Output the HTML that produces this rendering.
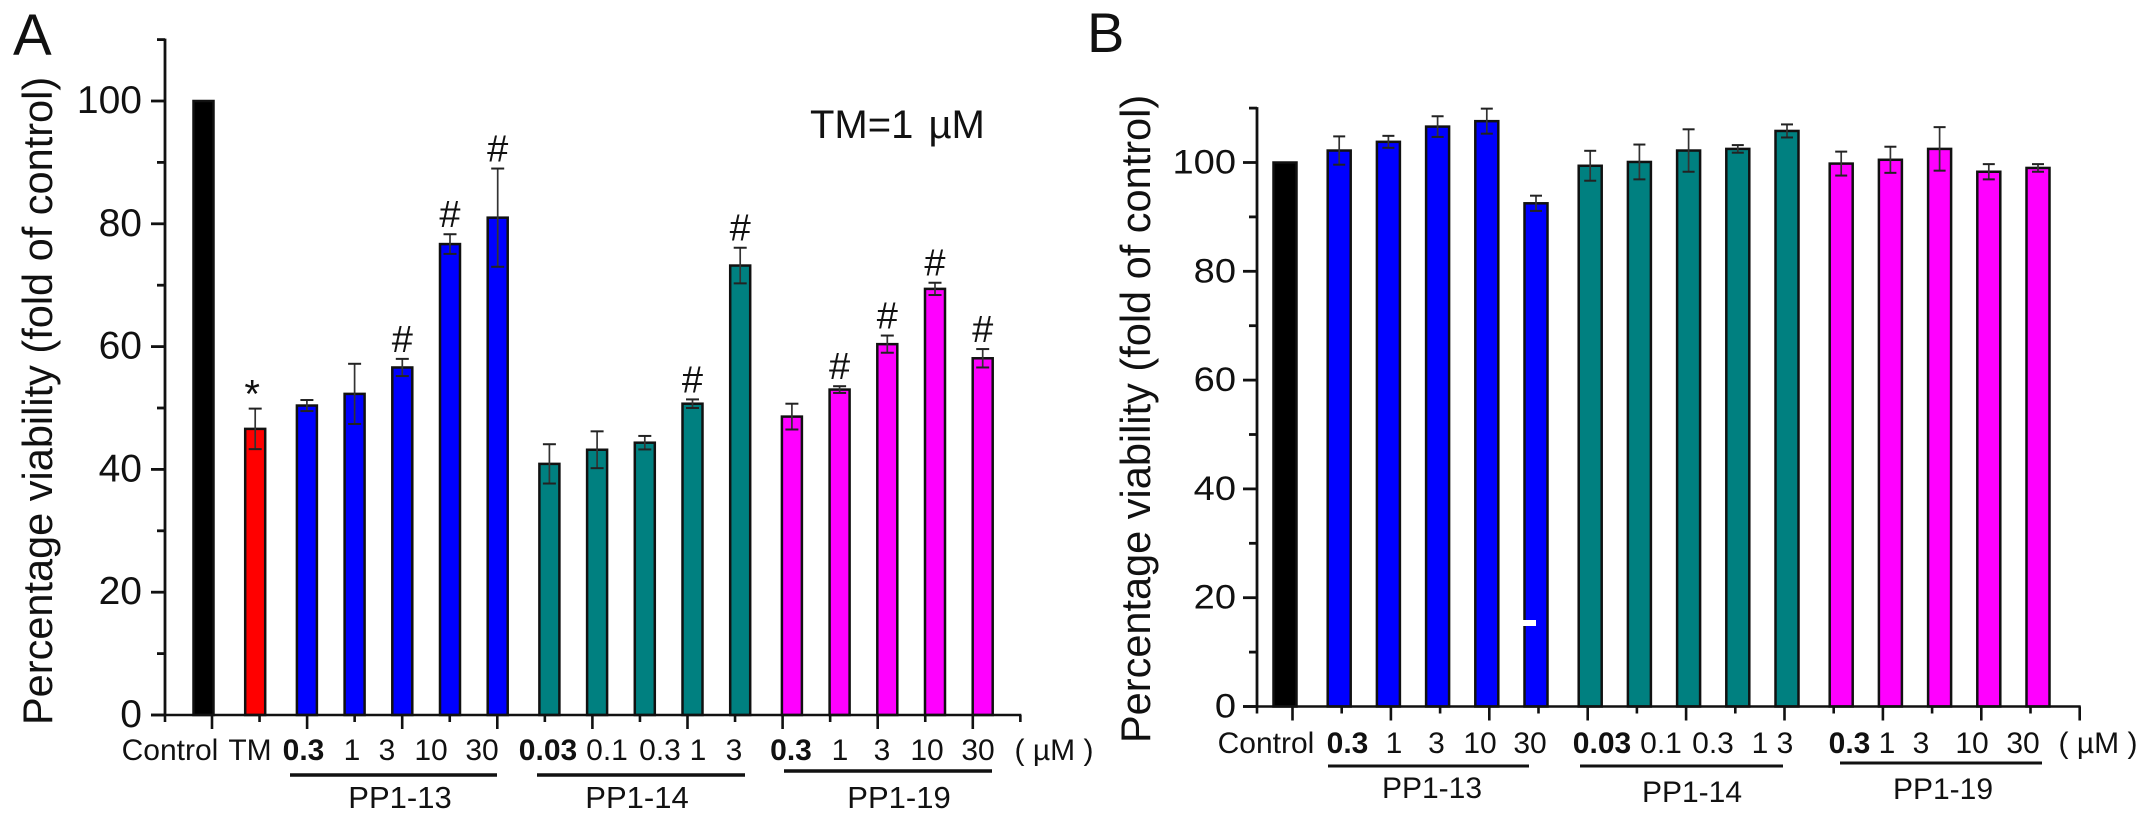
<!DOCTYPE html>
<html lang="en">
<head>
<meta charset="utf-8">
<title>Percentage viability charts</title>
<style>
html,body{margin:0;padding:0;background:#fff;}
svg{display:block;font-family:"Liberation Sans",Arial,sans-serif;fill:#111;}
</style>
</head>
<body>
<svg id="figure" xmlns="http://www.w3.org/2000/svg" width="2150" height="822" viewBox="0 0 2150 822">
  <rect x="0" y="0" width="2150" height="822" fill="#fff"/>
  <g id="panelA"></g>
  <g id="panelB"></g>

  <text x="13" y="55" font-size="58">A</text>
  <text x="1087" y="52" font-size="56">B</text>
  <text x="810" y="138" font-size="40" word-spacing="4">TM=1 µM</text>

  <g font-size="30" text-anchor="middle">
    <text x="170" y="760">Control</text>
    <text x="250" y="760">TM</text>
    <text x="303.5" y="760" font-weight="bold">0.3</text>
    <text x="352" y="760">1</text>
    <text x="387" y="760">3</text>
    <text x="431" y="760">10</text>
    <text x="482" y="760">30</text>
    <text x="548" y="760" font-weight="bold">0.03</text>
    <text x="607" y="760">0.1</text>
    <text x="660" y="760">0.3</text>
    <text x="698" y="760">1</text>
    <text x="734" y="760">3</text>
    <text x="791" y="760" font-weight="bold">0.3</text>
    <text x="840" y="760">1</text>
    <text x="882" y="760">3</text>
    <text x="927" y="760">10</text>
    <text x="978" y="760">30</text>
    <text x="1054" y="760">( µM )</text>
    <text x="400" y="808" font-size="31">PP1-13</text>
    <text x="637" y="808" font-size="31">PP1-14</text>
    <text x="899" y="808" font-size="31">PP1-19</text>
  </g>
  <g stroke="#111" stroke-width="3.5">
    <line x1="290" y1="775" x2="497" y2="775"/>
    <line x1="537" y1="775" x2="745" y2="775"/>
    <line x1="784" y1="771" x2="992" y2="771"/>
  </g>
  <text transform="translate(52 725) rotate(-90)" font-size="41.5">Percentage viability (fold of control)</text>

  <g font-size="30" text-anchor="middle">
    <text x="1266" y="753">Control</text>
    <text x="1347.5" y="753" font-weight="bold">0.3</text>
    <text x="1394" y="753">1</text>
    <text x="1436.5" y="753">3</text>
    <text x="1480" y="753">10</text>
    <text x="1530" y="753">30</text>
    <text x="1602" y="753" font-weight="bold">0.03</text>
    <text x="1661" y="753">0.1</text>
    <text x="1713" y="753">0.3</text>
    <text x="1760" y="753">1</text>
    <text x="1785" y="753">3</text>
    <text x="1849.5" y="753" font-weight="bold">0.3</text>
    <text x="1887" y="753">1</text>
    <text x="1921" y="753">3</text>
    <text x="1972" y="753">10</text>
    <text x="2023" y="753">30</text>
    <text x="2098" y="753">( µM )</text>
    <text x="1432" y="798">PP1-13</text>
    <text x="1692" y="802">PP1-14</text>
    <text x="1943" y="799">PP1-19</text>
  </g>
  <g stroke="#111" stroke-width="3">
    <line x1="1328" y1="766" x2="1529" y2="766"/>
    <line x1="1580" y1="766" x2="1783" y2="766"/>
    <line x1="1840" y1="763" x2="2042" y2="763"/>
  </g>
  <text transform="translate(1150 743) rotate(-90)" font-size="41.5">Percentage viability (fold of control)</text>
</svg>
<script>
// Panel A data
const categoriesA = ['Control','TM','0.3','1','3','10','30','0.03','0.1','0.3','1','3','0.3','1','3','10','30'];
const groupsA = ['Control','TM','PP1-13','PP1-13','PP1-13','PP1-13','PP1-13','PP1-14','PP1-14','PP1-14','PP1-14','PP1-14','PP1-19','PP1-19','PP1-19','PP1-19','PP1-19'];
const valuesA = [100,46.6,50.4,52.3,56.6,76.7,81,40.9,43.2,44.35,50.7,73.2,48.6,53,60.4,69.4,58.1];
const errorsA = [0,3.3,0.9,4.9,1.4,1.6,8,3.2,3,1.1,0.7,2.9,2.1,0.55,1.4,1,1.5];
const marksA = ['','*','','','#','#','#','','','','#','#','','#','#','#','#'];
const yTickLabelsA = [0,20,40,60,80,100];

// Panel B data
const categoriesB = ['Control','0.3','1','3','10','30','0.03','0.1','0.3','1','3','0.3','1','3','10','30'];
const groupsB = ['Control','PP1-13','PP1-13','PP1-13','PP1-13','PP1-13','PP1-14','PP1-14','PP1-14','PP1-14','PP1-14','PP1-19','PP1-19','PP1-19','PP1-19','PP1-19'];
const valuesB = [100,102.2,103.8,106.6,107.6,92.5,99.4,100.1,102.2,102.5,105.8,99.8,100.5,102.5,98.3,99];
const errorsB = [0,2.6,1.1,1.9,2.3,1.4,2.75,3.2,3.9,0.7,1.2,2.2,2.4,4,1.4,0.7];
const marksB = ['','','','','','','','','','','','','','','',''];
const yTickLabelsB = [0,20,40,60,80,100];

const groupColors = {'Control':'#000000','TM':'#ff0000','PP1-13':'#0000ff','PP1-14':'#008080','PP1-19':'#ff00ff'};
const NS = 'http://www.w3.org/2000/svg';

function line(parent, name, x1, y1, x2, y2, width, color) {
  const el = document.createElementNS(NS, 'line');
  
  
  el.setAttribute('x1', x1);
  el.setAttribute('y1', y1);
  el.setAttribute('x2', x2);
  el.setAttribute('y2', y2);
  el.setAttribute('stroke', color || '#111');
  el.setAttribute('stroke-width', width);
  parent.appendChild(el);
  return el;
}

function drawPanel(root, opt) {
  const groupOrder = [];
  opt.groups.forEach(function (g) { if (groupOrder.indexOf(g) < 0) groupOrder.push(g); });
  const y = function (v) { return opt.y0 - v * opt.yScale; };
  const x = function (i) { return opt.x0 + opt.step * i + opt.gap * groupOrder.indexOf(opt.groups[i]); };

  // bars
  opt.values.forEach(function (v, i) {
    const c = x(i);
    const bar = document.createElementNS(NS, 'rect');
    
    
    bar.setAttribute('x', c - opt.barWidth / 2);
    bar.setAttribute('y', y(v));
    bar.setAttribute('width', opt.barWidth);
    bar.setAttribute('height', opt.y0 - y(v));
    bar.setAttribute('fill', groupColors[opt.groups[i]]);
    bar.setAttribute('stroke', '#111');
    bar.setAttribute('stroke-width', '2.5');
    root.appendChild(bar);
  });

  // error bars
  opt.values.forEach(function (v, i) {
    const e = opt.errors[i];
    if (!e) return;
    const c = x(i);
    const top = y(v + e);
    const bottom = y(v - e);
    line(root, 'error-stem-' + i, c, top, c, bottom, 1.7, '#333');
    line(root, 'error-cap-top-' + i, c - opt.cap, top, c + opt.cap, top, 2, '#222');
    line(root, 'error-cap-bottom-' + i, c - opt.cap, bottom, c + opt.cap, bottom, 2, '#222');
  });

  // significance marks
  opt.marks.forEach(function (m, i) {
    if (!m) return;
    const t = document.createElementNS(NS, 'text');
    
    
    const top = y(opt.values[i] + opt.errors[i]);
    t.setAttribute('x', x(i) - (m === '#' ? 0 : 3));
    t.setAttribute('y', m === '#' ? top - 7 : top - 1);
    t.setAttribute('text-anchor', 'middle');
    t.setAttribute('font-size', m === '#' ? 38 : 40);
    t.setAttribute('font-weight', 'normal');
    t.textContent = m;
    root.appendChild(t);
  });

  // y axis
  line(root, 'y-axis-line', opt.axisX, y(110) - 1, opt.axisX, opt.y0 + 1, 2.8);
  for (let v = 0; v <= 110; v += 10) {
    const major = v % 20 === 0;
    line(root, major ? 'y-tick-major' : 'y-tick-minor', opt.axisX - (major ? 14 : 8), y(v), opt.axisX, y(v), 2.8);
  }
  opt.yLabels.forEach(function (v) {
    const t = document.createElementNS(NS, 'text');
    
    
    t.setAttribute('text-anchor', 'end');
    t.setAttribute('font-size', opt.yFont);
    t.setAttribute('transform', 'translate(' + opt.yLabelX + ' ' + (y(v) + opt.yLabelDy) + ') scale(' + opt.yStretch + ' 1)');
    t.textContent = v;
    root.appendChild(t);
  });

  // x axis
  line(root, 'x-axis-line', opt.axisX - 14, opt.y0, opt.tick0 + opt.tickStep * opt.tickMax + 1, opt.y0, 2.6);
  line(root, 'x-tick-origin', opt.axisX, opt.y0, opt.axisX, opt.y0 + 7, 2.6);
  for (let k = 0; k <= opt.tickMax; k++) {
    const major = k % 2 === 0;
    const tx = opt.tick0 + opt.tickStep * k;
    line(root, major ? 'x-tick-major' : 'x-tick-minor', tx, opt.y0, tx, opt.y0 + (major ? 14 : 7), 2.6);
  }
}

drawPanel(document.getElementById('panelA'), {
  categories: categoriesA, groups: groupsA, values: valuesA, errors: errorsA, marks: marksA, yLabels: yTickLabelsA,
  x0: 203.5, step: 47.7, gap: 4, barWidth: 20, cap: 6.5,
  y0: 715, yScale: 6.14, axisX: 165, tick0: 212, tickStep: 47.55, tickMax: 17,
  yFont: 39, yStretch: 1, yLabelX: 142, yLabelDy: 12
});

drawPanel(document.getElementById('panelB'), {
  categories: categoriesB, groups: groupsB, values: valuesB, errors: errorsB, marks: marksB, yLabels: yTickLabelsB,
  x0: 1285, step: 49.2, gap: 5, barWidth: 23, cap: 6,
  y0: 706.5, yScale: 5.44, axisX: 1257, tick0: 1292.5, tickStep: 49.2, tickMax: 16,
  yFont: 34, yStretch: 1.12, yLabelX: 1236, yLabelDy: 11
});

// white dash artifact on the last blue bar of panel B
const dash = document.createElementNS(NS, 'rect');


dash.setAttribute('x', 1522);
dash.setAttribute('y', 620);
dash.setAttribute('width', 14);
dash.setAttribute('height', 6);
dash.setAttribute('fill', '#fff');
document.getElementById('panelB').appendChild(dash);
</script>
</body>
</html>
